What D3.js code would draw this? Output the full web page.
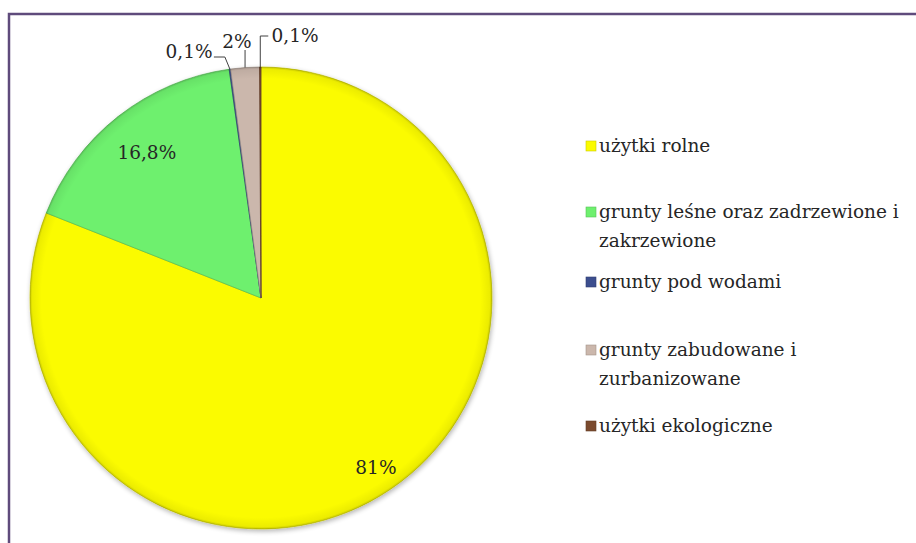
<!DOCTYPE html>
<html>
<head>
<meta charset="utf-8">
<script src="https://cdn.jsdelivr.net/npm/d3@7"></script>
<style>
  body { margin: 0; background: #fff; }
  svg { display: block; }
  text { font-family: "DejaVu Serif", serif; fill: #262626; }
</style>
</head>
<body>
<svg></svg>
<script>
const width = 916;
const height = 543;

// dane
const categories = ["użytki rolne", "grunty leśne oraz zadrzewione i zakrzewione", "grunty pod wodami", "grunty zabudowane i zurbanizowane", "użytki ekologiczne"];
const legendLines = [["użytki rolne"], ["grunty leśne oraz zadrzewione i", "zakrzewione"], ["grunty pod wodami"], ["grunty zabudowane i", "zurbanizowane"], ["użytki ekologiczne"]];
const values = [81, 16.8, 0.1, 2, 0.1];
const labels = ["81%", "16,8%", "0,1%", "2%", "0,1%"];
const colors = ["#fbfb00", "#6ef06e", "#3c4e8e", "#cbb7ac", "#7b4a2e"];

const cx = 261, cy = 298, R = 231;

let svg = d3.select("svg")
    .attr("width", width)
    .attr("height", height);

let defs = svg.append("defs");

// cieniowanie brzegu kola
let grad = defs.append("radialGradient")
    .attr("id", "bevel")
    .attr("gradientUnits", "userSpaceOnUse")
    .attr("cx", 0).attr("cy", 0).attr("r", R);
grad.append("stop").attr("offset", "0.95").attr("stop-color", "#000").attr("stop-opacity", 0);
grad.append("stop").attr("offset", "0.99").attr("stop-color", "#000").attr("stop-opacity", 0.06);
grad.append("stop").attr("offset", "1").attr("stop-color", "#000").attr("stop-opacity", 0.2);

let shadow = defs.append("filter").attr("id", "shadow")
    .attr("x", "-10%").attr("y", "-10%").attr("width", "120%").attr("height", "120%");
shadow.append("feGaussianBlur").attr("in", "SourceAlpha").attr("stdDeviation", 2.5);
shadow.append("feOffset").attr("dx", 1).attr("dy", 2).attr("result", "b");
shadow.append("feComponentTransfer").append("feFuncA").attr("type", "linear").attr("slope", 0.3);
let merge = shadow.append("feMerge");
merge.append("feMergeNode");
merge.append("feMergeNode").attr("in", "SourceGraphic");

// ramka
svg.append("path")
    .attr("d", `M9,${height} L9,14 L${width},14`)
    .attr("fill", "none")
    .attr("stroke", "#5f4b7c")
    .attr("stroke-width", 2.5);

const pie = d3.pie().sort(null).value(d => d)(values);
const arc = d3.arc().innerRadius(0).outerRadius(R);

let g = svg.append("g").attr("transform", `translate(${cx}, ${cy})`);

g.append("g").attr("filter", "url(#shadow)")
  .selectAll("path")
  .data(pie)
  .enter()
  .append("path")
  .attr("d", arc)
  .attr("fill", (d, i) => colors[i])
  .attr("stroke", (d, i) => d3.color(colors[i]).darker(0.7))
  .attr("stroke-width", 0.7);

g.selectAll(".bev")
  .data(pie)
  .enter()
  .append("path")
  .attr("d", arc)
  .attr("fill", "url(#bevel)");

// etykiety wewnatrz
const innerR = [0.885, 0.8];
[0, 1].forEach(i => {
  const a = d3.arc().innerRadius(R * innerR[i]).outerRadius(R * innerR[i]);
  const [x, y] = a.centroid(pie[i]);
  g.append("text")
    .attr("x", x).attr("y", y)
    .attr("text-anchor", "middle")
    .attr("dy", "0.35em")
    .style("font-size", "18.5px")
    .text(labels[i]);
});

// etykiety zewnetrzne z liniami
const edge = d3.arc().innerRadius(R).outerRadius(R);
const outer = [
  { i: 2, tx: -72, ty: -246, lead: p => [[p[0] - 16, -241], [p[0] - 5, -241], p] },
  { i: 3, tx: -24, ty: -256, lead: p => [[p[0], -248], p] },
  { i: 4, tx: 34, ty: -262, lead: p => [[p[0] + 8, -262], [p[0], -262], p] }
];
outer.forEach(o => {
  const p = edge.centroid(pie[o.i]);
  g.append("path")
    .attr("d", d3.line()(o.lead(p)))
    .attr("fill", "none")
    .attr("stroke", "#404040")
    .attr("stroke-width", 1);
  g.append("text")
    .attr("x", o.tx).attr("y", o.ty)
    .attr("text-anchor", "middle")
    .attr("dy", "0.35em")
    .style("font-size", "18.5px")
    .text(labels[o.i]);
});

// legenda
const legendY = [146, 212, 282, 350, 426];
const lineH = 29;
let leg = svg.append("g");
legendLines.forEach((lines, i) => {
  leg.append("rect")
    .attr("x", 586).attr("y", legendY[i] - 5)
    .attr("width", 10).attr("height", 10)
    .attr("fill", colors[i])
    .attr("stroke", d3.color(colors[i]).darker(0.6))
    .attr("stroke-width", 0.6);
  let t = leg.append("text")
    .attr("x", 599).attr("y", legendY[i])
    .style("font-size", "18.5px");
  lines.forEach((l, j) => {
    t.append("tspan").attr("x", 599).attr("dy", j == 0 ? "0.35em" : lineH).text(l);
  });
});
</script>
</body>
</html>
